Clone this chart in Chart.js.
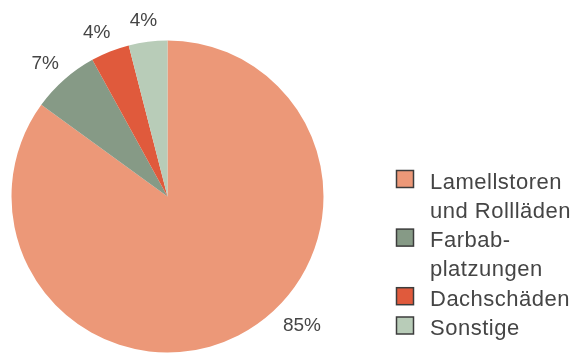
<!DOCTYPE html>
<html>
<head>
<meta charset="utf-8">
<script src="https://cdn.jsdelivr.net/npm/chart.js@4.4.1/dist/chart.umd.min.js"></script>
<style>
  html, body { margin: 0; padding: 0; background: #fff; }
  #wrap { width: 584px; height: 354px; }
</style>
</head>
<body>
<div id="wrap"><canvas id="myChart" width="584" height="354"></canvas></div>
<script>
"use strict";

var categories = [["Lamellstoren", "und Rollläden"], ["Farbab-", "platzungen"], ["Dachschäden"], ["Sonstige"]];
var shares = [85, 7, 4, 4];
var percentLabels = ["85%", "7%", "4%", "4%"];
var colors = ["#ec9878", "#869a86", "#e05a3c", "#b8ccb8"];

var FONT = "'Liberation Sans', Arial, sans-serif";
var TEXT = "#454545";

// percent labels just outside the rim; the big slice gets its label pulled toward the lower right
var sliceLabels = {
    id: "sliceLabels",
    afterDatasetsDraw: function (chart, args, opts) {
        var ctx = chart.ctx;
        var arcs = chart.getDatasetMeta(0).data;
        ctx.save();
        ctx.font = "19px " + FONT;
        ctx.fillStyle = TEXT;
        ctx.textAlign = "center";
        ctx.textBaseline = "middle";
        arcs.forEach(function (arc, i) {
            var p = arc.getProps(["x", "y", "startAngle", "endAngle", "outerRadius"], true);
            var t = opts.anglePos[i];
            var a = p.startAngle + (p.endAngle - p.startAngle) * t;
            var d = p.outerRadius + opts.offset[i];
            ctx.fillText(percentLabels[i], p.x + Math.cos(a) * d, p.y + Math.sin(a) * d + 1);
        });
        ctx.restore();
    }
};

// legend on the right with multi-line entries
var sideLegend = {
    id: "sideLegend",
    afterDraw: function (chart) {
        var ctx = chart.ctx;
        var x0 = 396.5, y = 188.5, step = 29.3, box = 17;
        ctx.save();
        ctx.font = "22px " + FONT;
        ctx.letterSpacing = "0.5px";
        ctx.textBaseline = "alphabetic";
        ctx.textAlign = "left";
        chart.data.labels.forEach(function (lines, i) {
            ctx.fillStyle = colors[i];
            ctx.fillRect(x0, y - 18, box, box);
            ctx.strokeStyle = "#3c3c3c";
            ctx.lineWidth = 1.5;
            ctx.strokeRect(x0, y - 18, box, box);
            ctx.fillStyle = TEXT;
            lines.forEach(function (line) {
                ctx.fillText(line, 430, y);
                y += step;
            });
        });
        ctx.restore();
    }
};

var ctx = document.getElementById("myChart").getContext("2d");
var chart = new Chart(ctx, {
    type: "pie",
    data: {
        labels: categories,
        datasets: [{
            data: shares,
            backgroundColor: colors,
            borderWidth: 0
        }]
    },
    options: {
        responsive: false,
        animation: false,
        layout: { padding: { left: 11.5, top: 40.5, right: 260.5, bottom: 1.5 } },
        plugins: {
            legend: { display: false },
            tooltip: { enabled: false },
            sliceLabels: { anglePos: [0.437, 0.456, 0.38, 0.46], offset: [30, 25, 23, 22] }
        }
    },
    plugins: [sliceLabels, sideLegend]
});
</script>
</body>
</html>
